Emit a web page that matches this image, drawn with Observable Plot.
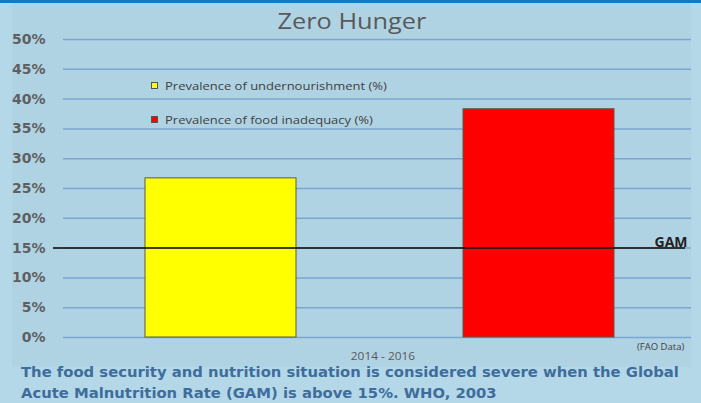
<!DOCTYPE html>
<html>
<head>
<meta charset="utf-8">
<script src="https://cdn.jsdelivr.net/npm/d3@7"></script>
<script src="https://cdn.jsdelivr.net/npm/@observablehq/plot@0.6"></script>
<style>
  html, body { margin: 0; padding: 0; background: #b5d8e9; }
  #wrap { position: relative; width: 701px; height: 403px; overflow: hidden; background: #b5d8e9; }
  #topbar { position: absolute; left: 0; top: 0; width: 701px; height: 3px; background: #0f7cc4; }
  #area { position: absolute; left: 12px; top: 3px; width: 679px; height: 364px; background: #b0d3e4; }
  #chart { position: absolute; left: 0; top: 0; }
  .t { position: absolute; white-space: nowrap; }
  #title { left: 0; width: 704px; top: 4.5px; text-align: center; font-family: "Open Sans", sans-serif; font-size: 22px; color: #595959; transform: scaleX(1.15); transform-origin: 352px 0; }
  .leg { font-family: "Open Sans", sans-serif; font-size: 11.5px; color: #404040; left: 165px; transform: scaleX(1.13); transform-origin: 0 0; }
  .sw { position: absolute; width: 5px; height: 5px; border: 1px solid #555; left: 151px; }
  #xlab { left: 283px; width: 200px; text-align: center; top: 350px; line-height: 11px; font-family: "Open Sans", sans-serif; font-size: 11px; color: #595959; transform: scaleX(1.08); transform-origin: 100px 0; }
  #src { left: 637px; top: 341px; line-height: 12px; font-family: "Open Sans", sans-serif; font-size: 9.5px; color: #404040; }
  .cap { left: 21px; font-family: "DejaVu Sans", Verdana, sans-serif; font-weight: bold; font-size: 14.8px; line-height: 15px; color: #3e6d9c; }
</style>
</head>
<body>
<div id="wrap">
  <div id="topbar"></div>
  <div id="area"></div>
  <div id="chart"></div>
  <div id="title" class="t"></div>
  <div id="leg"></div>
  <div id="xlab" class="t"></div>
  <div id="src" class="t"></div>
  <div id="cap1" class="t cap" style="top:364.4px"></div>
  <div id="cap2" class="t cap" style="top:384.9px"></div>
</div>
<script>
const title = "Zero Hunger";
const series = ["Prevalence of undernourishment (%)", "Prevalence of food inadequacy (%)"];
const values = [26.7, 38.3];
const colors = ["#ffff00", "#ff0000"];
const yTicks = [0, 5, 10, 15, 20, 25, 30, 35, 40, 45, 50];
const gamValue = 15;
const gamLabel = "GAM";
const period = "2014 - 2016";
const source = "(FAO Data)";
const captionLines = [
  "The food security and nutrition situation is considered severe when the Global",
  "Acute Malnutrition Rate (GAM) is above 15%. WHO, 2003"
];

const data = series.map((s, i) => ({series: s, value: values[i], color: colors[i]}));

const chart = Plot.plot({
  width: 701,
  height: 367,
  marginTop: 39,
  marginBottom: 30,
  marginLeft: 63,
  marginRight: 10,
  style: {background: "transparent", overflow: "visible"},
  x: {domain: series, paddingInner: 0.526, paddingOuter: 0.25, axis: null},
  y: {domain: [0, 50], ticks: yTicks},
  marks: [
    Plot.ruleY(yTicks, {stroke: "#7aa6d2", strokeWidth: 1.5}),
    Plot.axisY({
      ticks: yTicks, tickSize: 0, tickPadding: 18,
      tickFormat: d => d + "%",
      fontSize: 14, fontWeight: "bold", fill: "#5f5f5f",
      fontFamily: "DejaVu Sans, Verdana, sans-serif",
      label: null
    }),
    Plot.barY(data, {x: "series", y: "value", fill: "color", stroke: "#5a5a4a", strokeWidth: 1, dx: 2}),
    Plot.ruleY([gamValue], {stroke: "#1a1a1a", strokeWidth: 2, insetLeft: -10, insetRight: 6, strokeOpacity: 0.85}),
    Plot.text([gamValue], {
      y: d => d, text: () => gamLabel, frameAnchor: "right", textAnchor: "end",
      dx: -4, dy: -6, fontWeight: "bold", fontSize: 14, fill: "#222",
      fontFamily: "Open Sans, sans-serif"
    })
  ]
});
document.getElementById("chart").appendChild(chart);

document.getElementById("title").textContent = title;
document.getElementById("xlab").textContent = period;
document.getElementById("src").textContent = source;
document.getElementById("cap1").textContent = captionLines[0];
document.getElementById("cap2").textContent = captionLines[1];

const legTops = [77.7, 111.7];
const leg = document.getElementById("leg");
series.forEach((s, i) => {
  const sw = document.createElement("div");
  sw.className = "sw";
  sw.style.top = Math.round(legTops[i] + 4.3) + "px";
  sw.style.background = colors[i];
  leg.appendChild(sw);
  const t = document.createElement("div");
  t.className = "t leg";
  t.style.top = legTops[i] + "px";
  t.textContent = s;
  leg.appendChild(t);
});
</script>
</body>
</html>
